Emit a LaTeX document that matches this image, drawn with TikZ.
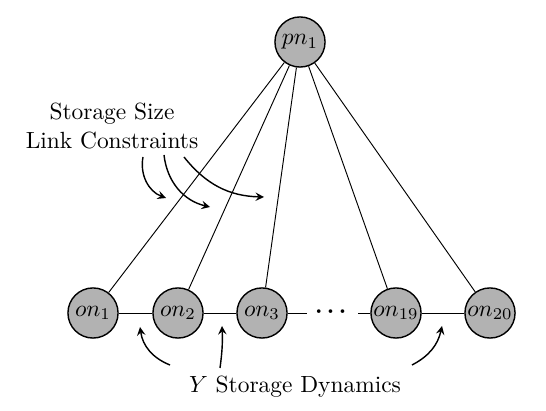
\documentclass[tikz,border=0pt]{standalone}
\usepackage{color}
\usepackage{amsmath}
\usetikzlibrary{arrows}

\begin{document}
\begin{tikzpicture}
    [%%%%%%%%%%%%%%%%%%%%%%%%%%%%%%
        x=0.427pt,y=0.427pt,
        vert/.style={circle,draw=black,semithick,fill=black!30,inner sep=0pt,minimum size=21.4pt},
        note/.style={->,>=stealth,semithick},
    ]%%%%%%%%%%%%%%%%%%%%%%%%%%%%%%

\useasboundingbox (0,0) rectangle (546,411);

\node[vert] (pn1) at (300,369){$pn_1$};

\foreach \x/\n in {93/1,178/2,262/3,396/19,490/20}{
    \node[vert] (on\n) at (\x,98){$on_{\n}$};
}

\node (dots) at (333,99){$\boldsymbol{\cdots}$};
\coordinate (gapl) at (307,98);
\coordinate (gapr) at (358,98);

\foreach \n in {1,2,3,19,20}{
    \draw (pn1) -- (on\n);
}

\draw (on1) -- (on2);
\draw (on2) -- (on3);
\draw (on3) -- (gapl);
\draw (gapr) -- (on19);
\draw (on19) -- (on20);

\node[align=center] (linklbl) at (112,285){Storage Size\\Link Constraints};
\node (dynlbl) at (295,24){$Y$ Storage Dynamics};

\coordinate (t1) at (166,213);
\coordinate (t2) at (210,204);
\coordinate (t3) at (264,214);
\draw[note] (143,254) to[bend right=40] (t1);
\draw[note] (164,256) to[bend right=35] (t2);
\draw[note] (184,254) to[bend right=25] (t3);

\coordinate (b1) at (140,84);
\coordinate (b2) at (222,85);
\coordinate (b3) at (442,85);
\draw[note] (170,46) to[bend left=30] (b1);
\draw[note] (220,43) to[bend right=5] (b2);
\draw[note] (412,46) to[bend right=25] (b3);
\end{tikzpicture}
\end{document}
